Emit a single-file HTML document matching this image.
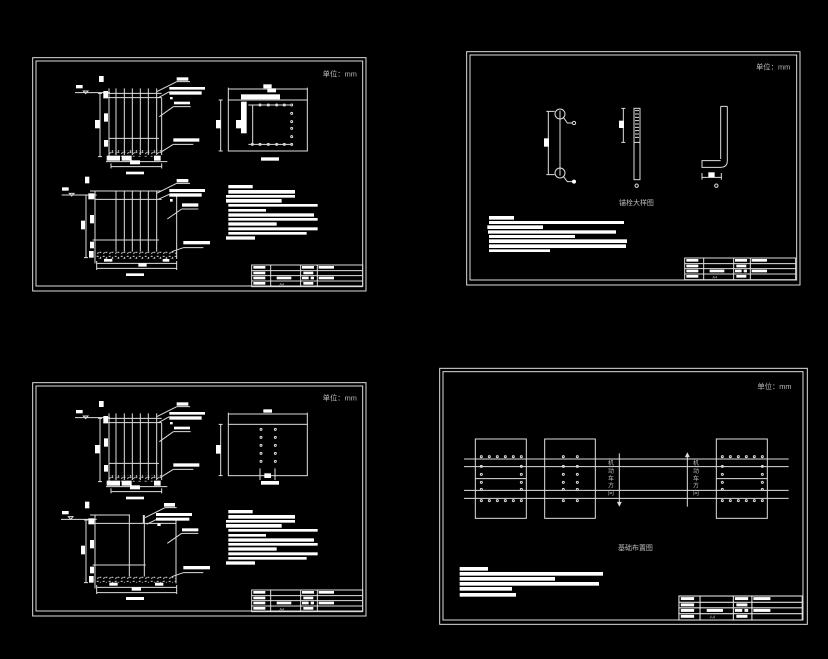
<!DOCTYPE html>
<html><head><meta charset="utf-8"><style>
html,body{margin:0;padding:0;background:#000;}
svg{display:block;}
text{font-family:"Liberation Sans","Noto Sans CJK SC",sans-serif;fill:#bbb;}
</style></head><body>
<svg width="828" height="659" viewBox="0 0 828 659" xmlns="http://www.w3.org/2000/svg">
<defs>
<pattern id="hat" width="18" height="20" patternUnits="userSpaceOnUse">
<path d="M2 4h6M10 12h6M4 16l4-4M12 6l3 3" stroke="#ddd" stroke-width="3"/>
</pattern>
<g id="tb" stroke="#ddd" stroke-width="3" fill="none">
<rect x="665" y="630" width="333" height="65"/>
<path d="M665 647H998M665 662H998M665 678H998M722 630V695M812 630V695M862 630V695"/>
<g fill="#fff" stroke="none">
<rect x="670" y="633" width="36" height="8"/><rect x="670" y="650" width="36" height="8"/><rect x="670" y="665" width="36" height="8"/><rect x="670" y="681" width="36" height="8"/>
<rect x="816" y="633" width="36" height="8"/><rect x="820" y="650" width="30" height="8"/><rect x="816" y="665" width="20" height="8"/><rect x="842" y="665" width="10" height="8"/><rect x="820" y="681" width="30" height="8"/>
<rect x="866" y="633" width="46" height="8"/><rect x="866" y="665" width="46" height="8"/><rect x="740" y="665" width="44" height="8"/>
</g>
<text x="748" y="691" font-size="12" stroke="none">A4</text>
</g>
<g id="frame" stroke="#ddd" stroke-width="3" fill="none">
<rect x="8" y="8" width="1000" height="700"/><rect x="18" y="18" width="980" height="675"/>
</g>
<g id="txt1" fill="#fff">
<rect x="595" y="390" width="73" height="10"/><rect x="595" y="405" width="200" height="11"/><rect x="588" y="420" width="207" height="8"/><rect x="588" y="432" width="167" height="11"/>
<rect x="595" y="447" width="268" height="8"/><rect x="595" y="462" width="113" height="8"/><rect x="595" y="475" width="257" height="10"/><rect x="595" y="489" width="268" height="8"/>
<rect x="595" y="502" width="145" height="10"/><rect x="595" y="517" width="268" height="9"/><rect x="595" y="531" width="235" height="8"/><rect x="588" y="544" width="87" height="10"/>
</g>
<g id="topsec">
<g stroke="#ddd" stroke-width="3" fill="none">
<path d="M135 113H240M160 108l7 8l7-8z"/>
<path d="M210 115V305M204 115h12M204 305h12"/>
<path d="M220 115H395M220 128H395M237 100V305M395 128V300M237 250H387"/>
<path d="M258 100V300M283 100V300M307 100V300M331 100V300M355 100V300M380 100V300"/>
<path d="M228 320H412M243 335H395M243 325V340M395 325V340"/>
<path d="M380 110L440 80M385 128L418 110M388 185L430 155M395 290L430 268"/>
<path d="M440 80H480M430 155H482M430 268H490"/>
</g>
<rect x="237" y="285" width="158" height="20" fill="url(#hat)"/>
<g fill="#fff">
<rect x="138" y="90" width="20" height="10"/><rect x="207" y="63" width="14" height="18"/>
<rect x="195" y="195" width="14" height="25"/><rect x="222" y="175" width="12" height="25"/><rect x="222" y="255" width="12" height="20"/><rect x="220" y="108" width="14" height="22"/>
<rect x="230" y="302" width="40" height="15"/><rect x="275" y="302" width="30" height="15"/><rect x="300" y="316" width="30" height="12"/><rect x="372" y="302" width="20" height="15"/>
<rect x="288" y="350" width="54" height="8"/>
<rect x="440" y="67" width="35" height="10"/><rect x="418" y="96" width="107" height="8"/><rect x="418" y="109" width="97" height="10"/><rect x="420" y="126" width="8" height="7"/>
<rect x="432" y="140" width="48" height="8"/><rect x="430" y="250" width="78" height="10"/>
</g>
</g>
</defs>

<!-- Sheet 1 -->
<g transform="translate(30,55) scale(0.33333)">
<use href="#frame"/>
<text x="878" y="65" font-size="22">单位：mm</text>
<use href="#topsec"/>
<g stroke="#ddd" stroke-width="3" fill="none">
<rect x="595" y="135" width="237" height="153"/>
<path d="M595 102H832M595 98V135M832 98V135M572 135V288M566 135h12M566 288h12"/>
<path d="M655 150H780M668 150V268M655 268H785"/>
</g>
<g fill="#fff">
<rect x="700" y="88" width="25" height="12"/><rect x="712" y="100" width="26" height="12"/>
<rect x="633" y="118" width="117" height="15"/><rect x="633" y="140" width="17" height="95"/><rect x="618" y="195" width="16" height="25"/>
<rect x="558" y="195" width="14" height="25"/><rect x="693" y="307" width="54" height="10"/>
</g>
<g fill="none" stroke="#ddd" stroke-width="3">
<circle cx="690" cy="150" r="3"/><circle cx="715" cy="150" r="3"/><circle cx="740" cy="150" r="3"/><circle cx="763" cy="150" r="3"/><circle cx="785" cy="150" r="3"/>
<circle cx="785" cy="175" r="3"/><circle cx="785" cy="200" r="3"/><circle cx="785" cy="220" r="3"/><circle cx="785" cy="245" r="3"/>
<circle cx="667" cy="268" r="3"/><circle cx="690" cy="268" r="3"/><circle cx="715" cy="268" r="3"/><circle cx="740" cy="268" r="3"/><circle cx="763" cy="268" r="3"/><circle cx="785" cy="268" r="3"/>
</g>
<g stroke="#ddd" stroke-width="3" fill="none">
<path d="M95 420H200M118 415l7 8l7-8z"/>
<path d="M168 420V608M162 420h12M162 608h12"/>
<path d="M180 408H395M195 433H395M195 408V625M440 420V612M188 555H387"/>
<path d="M258 408V590M283 408V590M307 408V590M331 408V590M355 408V590M380 408V590"/>
<path d="M200 625H440M200 640H440M200 618V645M440 618V645"/>
<path d="M380 415L440 385M385 433L418 418M412 492L455 462M425 590L460 578M440 385H480M455 462H505M460 578H520"/>
</g>
<rect x="195" y="590" width="245" height="22" fill="url(#hat)"/>
<g fill="#fff">
<rect x="96" y="397" width="20" height="10"/><rect x="165" y="365" width="13" height="20"/><rect x="153" y="497" width="12" height="26"/>
<rect x="180" y="480" width="12" height="25"/><rect x="180" y="560" width="12" height="20"/><rect x="177" y="588" width="14" height="20"/><rect x="175" y="415" width="18" height="18"/>
<rect x="222" y="612" width="25" height="8"/><rect x="325" y="625" width="25" height="10"/><rect x="398" y="612" width="20" height="8"/>
<rect x="288" y="655" width="54" height="8"/>
<rect x="440" y="372" width="35" height="10"/><rect x="418" y="402" width="107" height="9"/><rect x="418" y="415" width="97" height="10"/><rect x="420" y="432" width="8" height="8"/>
<rect x="456" y="445" width="49" height="10"/><rect x="460" y="558" width="80" height="10"/>
</g>
<use href="#txt1"/>
<use href="#tb"/>
</g>

<!-- Sheet 3 -->
<g transform="translate(30,380) scale(0.33333)">
<use href="#frame"/>
<text x="878" y="62" font-size="22">单位：mm</text>
<use href="#topsec"/>
<g stroke="#ddd" stroke-width="3" fill="none">
<rect x="595" y="133" width="237" height="154"/>
<path d="M595 102H832M595 98V133M832 98V133M572 133V287M566 133h12M566 287h12M690 265V300M735 265V300"/>
<circle cx="693" cy="148" r="3"/><circle cx="736" cy="148" r="3"/><circle cx="693" cy="172" r="3"/><circle cx="736" cy="172" r="3"/>
<circle cx="693" cy="196" r="3"/><circle cx="736" cy="196" r="3"/><circle cx="693" cy="220" r="3"/><circle cx="736" cy="220" r="3"/>
<circle cx="693" cy="244" r="3"/><circle cx="736" cy="244" r="3"/>
</g>
<g fill="#fff"><rect x="700" y="88" width="26" height="10"/><rect x="558" y="195" width="14" height="26"/><rect x="703" y="280" width="20" height="14"/><rect x="693" y="303" width="54" height="11"/></g>
<g stroke="#ddd" stroke-width="3" fill="none">
<path d="M93 418H200M115 410l7 8l7-8z"/>
<path d="M168 420V608M162 420h12M162 608h12"/>
<path d="M180 405H300M195 430H345M195 405V625M438 420V610M188 555H347M298 405V590M343 405V590M340 405V430H438"/>
<path d="M200 622H440M200 638H440M200 615V642M440 615V642"/>
<path d="M345 413L405 383M350 433L380 418M412 490L455 460M425 590L460 578M405 383H440M455 460H505M460 578H520"/>
</g>
<rect x="195" y="590" width="243" height="18" fill="url(#hat)"/>
<g fill="#fff">
<rect x="96" y="393" width="20" height="10"/><rect x="165" y="365" width="13" height="20"/><rect x="153" y="497" width="12" height="26"/>
<rect x="180" y="480" width="12" height="25"/><rect x="180" y="560" width="12" height="20"/><rect x="177" y="588" width="14" height="20"/><rect x="175" y="415" width="18" height="18"/>
<rect x="238" y="608" width="25" height="9"/><rect x="305" y="622" width="28" height="10"/><rect x="375" y="608" width="25" height="9"/>
<rect x="288" y="651" width="54" height="9"/>
<rect x="402" y="369" width="33" height="11"/><rect x="378" y="399" width="108" height="9"/><rect x="378" y="413" width="100" height="9"/><rect x="382" y="430" width="10" height="8"/>
<rect x="456" y="445" width="49" height="9"/><rect x="460" y="558" width="80" height="10"/>
</g>
<use href="#txt1"/>
<use href="#tb"/>
</g>

<!-- Sheet 2 -->
<g transform="translate(464,49) scale(0.33333)">
<use href="#frame"/>
<text x="876" y="62" font-size="22">单位：mm</text>
<g stroke="#ddd" stroke-width="3" fill="none">
<path d="M288 185V380M253 187V377M247 187h25M247 377h25"/>
<circle cx="288" cy="195" r="15"/><circle cx="288" cy="372" r="15"/>
<path d="M298 205L310 222H325M298 382L310 398H325"/>
<circle cx="330" cy="222" r="5"/>
<rect x="510" y="178" width="18" height="214"/>
<path d="M478 178V280M472 178h12M472 280h12M513 185h12M513 195h12M513 205h12M513 215h12M513 225h12M513 235h12M513 245h12M513 255h12M513 265h12M510 280h18"/>
<circle cx="518" cy="410" r="5"/><circle cx="757" cy="410" r="5"/>
<path d="M770 172V330M790 172V335Q790 355 770 355H714V335H770M770 172H790"/>
<path d="M714 385H772M714 372V392M772 372V392"/>
</g>
<g fill="#fff">
<circle cx="330" cy="398" r="6"/>
<rect x="240" y="268" width="15" height="25"/><rect x="465" y="215" width="15" height="22"/><rect x="733" y="370" width="19" height="15"/>
<rect x="75" y="501" width="75" height="11"/><rect x="75" y="516" width="405" height="9"/><rect x="70" y="529" width="167" height="11"/><rect x="72" y="544" width="384" height="10"/>
<rect x="75" y="558" width="258" height="9"/><rect x="75" y="571" width="414" height="11"/><rect x="75" y="586" width="411" height="11"/><rect x="75" y="601" width="183" height="8"/>
</g>
<text x="465" y="468" font-size="21">锚栓大样图</text>
<g transform="translate(-3,-3)"><use href="#tb"/></g>
</g>

<!-- Sheet 4 -->
<g transform="translate(438,365) scale(0.33333)">
<rect x="5" y="10" width="1103" height="768" stroke="#ddd" stroke-width="3" fill="none"/>
<rect x="15" y="20" width="1080" height="745" stroke="#ddd" stroke-width="3" fill="none"/>
<text x="958" y="72" font-size="22">单位：mm</text>
<g stroke="#ddd" stroke-width="3" fill="none">
<rect x="112" y="222" width="153" height="238"/><rect x="320" y="222" width="152" height="238"/><rect x="835" y="222" width="153" height="238"/>
<path d="M78 282H1052M78 305H1052M78 376H1052M78 400H1052M112 341H265M835 341H988"/>
<path d="M544 265V420M748 265V425"/>
<path d="M539 412l5 10l5-10zM743 275l5-10l5 10z" fill="#ddd"/>
</g>
<g fill="none" stroke="#ddd" stroke-width="3">
<g id="row6"><circle cx="130" cy="275" r="3"/><circle cx="154" cy="275" r="3"/><circle cx="178" cy="275" r="3"/><circle cx="202" cy="275" r="3"/><circle cx="226" cy="275" r="3"/><circle cx="250" cy="275" r="3"/></g>
<use href="#row6" y="132"/><use href="#row6" x="723"/><use href="#row6" x="723" y="132"/>
<g id="col2"><circle cx="130" cy="304" r="3"/><circle cx="250" cy="304" r="3"/><circle cx="130" cy="328" r="3"/><circle cx="250" cy="328" r="3"/><circle cx="130" cy="352" r="3"/><circle cx="250" cy="352" r="3"/><circle cx="130" cy="373" r="3"/><circle cx="250" cy="373" r="3"/></g>
<use href="#col2" x="723"/>
<circle cx="376" cy="275" r="3"/><circle cx="418" cy="275" r="3"/><circle cx="376" cy="304" r="3"/><circle cx="418" cy="304" r="3"/>
<circle cx="376" cy="328" r="3"/><circle cx="418" cy="328" r="3"/><circle cx="376" cy="352" r="3"/><circle cx="418" cy="352" r="3"/>
<circle cx="376" cy="373" r="3"/><circle cx="418" cy="373" r="3"/><circle cx="376" cy="407" r="3"/><circle cx="418" cy="407" r="3"/>
</g>
<g font-size="18">
<text x="510" y="300">机</text><text x="510" y="324">动</text><text x="510" y="346">车</text><text x="510" y="368">方</text><text x="510" y="390">向</text>
<text x="765" y="300">机</text><text x="765" y="324">动</text><text x="765" y="346">车</text><text x="765" y="368">方</text><text x="765" y="390">向</text>
</g>
<text x="540" y="555" font-size="21">基础布置图</text>
<g fill="#fff">
<rect x="65" y="606" width="85" height="11"/><rect x="65" y="621" width="430" height="11"/><rect x="65" y="636" width="286" height="11"/>
<rect x="65" y="651" width="418" height="11"/><rect x="65" y="666" width="157" height="11"/><rect x="65" y="684" width="169" height="11"/>
</g>
<g transform="translate(-16,-5) scale(1.111,1.108)"><use href="#tb"/></g>
</g>
</svg>
</body></html>
